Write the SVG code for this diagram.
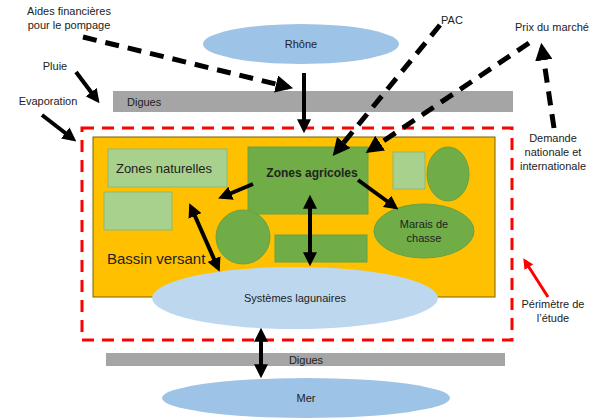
<svg xmlns="http://www.w3.org/2000/svg" width="600" height="419" viewBox="0 0 600 419">
<style>
text{font-family:"Liberation Sans",Arial,sans-serif;font-size:11px;fill:#222}
.c{text-anchor:middle}
.s{stroke:#000;stroke-width:4;fill:none}
.d{stroke:#000;stroke-width:5;fill:none;stroke-dasharray:14,9}
.lg{fill:#a9d18e;stroke:#8fb873}
.dg{fill:#70ad47;stroke:#6aa043}
</style>
<defs>
<marker id="a" viewBox="0 0 10 10" refX="7" refY="5" markerWidth="3.5" markerHeight="3.5" orient="auto-start-reverse"><path d="M0,0L10,5L0,10z" fill="#000"/></marker>
<marker id="r" viewBox="0 0 10 10" refX="7" refY="5" markerWidth="3.5" markerHeight="3.5" orient="auto"><path d="M0,0L10,5L0,10z" fill="#f00"/></marker>
</defs>
<g id="rhone"><ellipse cx="301" cy="44" rx="98" ry="20" fill="#9dc3e6"/><text class="c" x="301" y="48">Rhône</text></g>
<g id="digues-haut"><rect x="113" y="91" width="400" height="21" fill="#a5a5a5"/><text x="127" y="106">Digues</text></g>
<g id="bassin"><rect x="93" y="137" width="402" height="160" fill="#ffc000" stroke="#7f6000"/><text x="107" y="264" style="font-size:15px">Bassin versant</text></g>
<g id="zones-naturelles"><rect class="lg" x="108" y="149" width="119" height="38"/><text class="c" x="164" y="173" style="font-size:13px">Zones naturelles</text></g>
<g id="zone-n2"><rect class="lg" x="104" y="192" width="68" height="38"/></g>
<g id="zones-agricoles"><rect class="dg" x="248" y="147" width="120" height="67"/><text class="c" x="312" y="177" style="font-size:12px;font-weight:bold">Zones agricoles</text></g>
<g id="zone-r1"><rect class="lg" x="393" y="152" width="32" height="37"/></g>
<g id="zone-r2"><ellipse class="dg" cx="448" cy="174" rx="21" ry="27"/></g>
<g id="zone-c"><circle class="dg" cx="243" cy="237" r="27"/></g>
<g id="zone-b"><rect class="dg" x="275" y="235" width="92" height="27"/></g>
<g id="marais"><ellipse class="dg" cx="424" cy="231" rx="50" ry="27"/><text class="c" x="424" y="228">Marais de</text><text class="c" x="424" y="242">chasse</text></g>
<g id="lagunes"><ellipse cx="295" cy="298" rx="143" ry="31" fill="#bdd7ee"/><text class="c" x="295" y="302">Systèmes lagunaires</text></g>
<g id="perimetre"><rect x="82" y="128" width="430" height="212" fill="none" stroke="#f00" stroke-width="3" stroke-dasharray="12,8"/></g>
<g id="digues-bas"><rect x="106" y="353" width="399" height="13" fill="#a5a5a5"/><text class="c" x="306" y="364">Digues</text></g>
<g id="mer"><ellipse cx="306" cy="398" rx="144" ry="20" fill="#9dc3e6"/><text class="c" x="306" y="402">Mer</text></g>
<g id="labels">
<text class="c" x="69" y="15">Aides financières</text><text class="c" x="69" y="29">pour le pompage</text>
<text class="c" x="452" y="24">PAC</text>
<text class="c" x="552" y="31">Prix du marché</text>
<text class="c" x="55" y="70">Pluie</text>
<text class="c" x="48" y="105">Evaporation</text>
<text class="c" x="553" y="142">Demande</text><text class="c" x="553" y="156">nationale et</text><text class="c" x="553" y="170">internationale</text>
<text class="c" x="553" y="308">Périmètre de</text><text class="c" x="553" y="322">l’étude</text>
</g>
<g id="connectors">
<path class="d" d="M83,37L288,87" marker-end="url(#a)"/>
<path class="d" d="M440,25L336,152" marker-end="url(#a)"/>
<path class="d" d="M529,43L370,150" marker-end="url(#a)"/>
<path class="d" d="M554,128L542,48" marker-end="url(#a)"/>
<path class="s" d="M76,72L97,100" marker-end="url(#a)"/>
<path class="s" d="M42,115L73,139" marker-end="url(#a)"/>
<path class="s" d="M304,73L304,129" marker-end="url(#a)"/>
<path class="s" d="M253,184L222,197" marker-end="url(#a)"/>
<path class="s" d="M358,180L395,207" marker-end="url(#a)"/>
<path class="s" d="M310,199L310,262" marker-start="url(#a)" marker-end="url(#a)"/>
<path class="s" d="M191,207L218,268" marker-start="url(#a)" marker-end="url(#a)"/>
<path class="s" d="M261,332L261,374" marker-start="url(#a)" marker-end="url(#a)"/>
<path d="M548,297L525,261" stroke="#f00" stroke-width="3" marker-end="url(#r)"/>
</g>
</svg>
